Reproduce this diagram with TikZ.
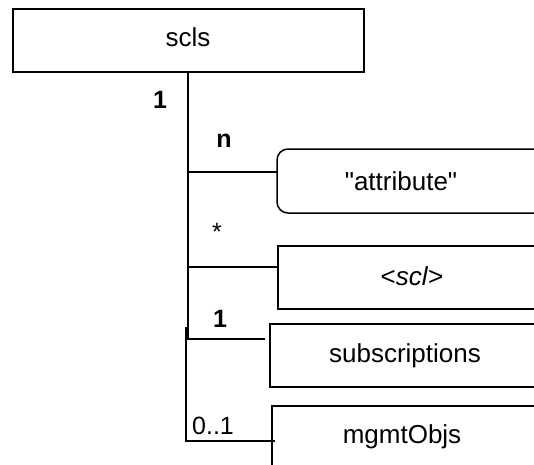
\documentclass[tikz,border=0pt]{standalone}
\usepackage{fontspec}
\setmainfont{Liberation Sans}[Ligatures=TeXOff]
\begin{document}
\begin{tikzpicture}[x=1pt,y=-1pt,
  every node/.style={inner sep=0pt, outer sep=0pt},
  rootbox/.style={draw, line width=2.2pt, rectangle, anchor=north west},
  childbox/.style={draw, line width=1.5pt, rectangle, anchor=north west},
  boxtext/.style={font=\fontsize{26}{30}\selectfont},
  mult/.style={font=\fontsize{25}{29}\selectfont},
  multb/.style={font=\fontsize{25}{29}\selectfont\bfseries},
  link/.style={line width=1.6pt}]
  \useasboundingbox (0,0) rectangle (534,464);
  \clip (0,0) rectangle (534,464);

  % root element
  \node[rootbox, minimum width=351pt, minimum height=63pt] (scls) at (13,9) {};
  \node[boxtext] (sclsT) at (188,37) {scls};

  % child resources (they run on past the right edge)
  \node[minimum width=320pt, minimum height=64pt, anchor=north west] (attr) at (277,149) {};
  \draw[line width=1.5pt, rounded corners=11pt]
    (attr.north east) -- (attr.north west) -- (attr.south west) -- (attr.south east);
  \node[boxtext] (attrT) at (401,181) {"attribute"};

  \node[childbox, minimum width=320pt, minimum height=63pt] (scl) at (278,246) {};
  \node[boxtext] (sclT) at (412,276) {<\textit{scl}>};

  \node[childbox, minimum width=320pt, minimum height=63pt] (subs) at (270,324) {};
  \node[boxtext] (subsT) at (405,355.5) {subscriptions};

  \node[childbox, minimum width=320pt, minimum height=90pt] (mgmt) at (272,406) {};
  \node[boxtext] (mgmtT) at (402,437) {mgmtObjs};

  % tree connectors
  \coordinate (trunkTop) at (scls.south -| 188,0);
  \coordinate (trunkA) at (188,172);
  \coordinate (trunkB) at (188,267);
  \coordinate (trunkC) at (188,339);
  \coordinate (subsEnd) at (265,339);
  \coordinate (branchTop) at (186,327);
  \coordinate (branchBot) at (186,441);
  \coordinate (mgmtEnd) at (275,441);

  \draw[link] (trunkTop) -- (trunkC) -- (subsEnd);
  \draw[link] (trunkA) -- (attr.west |- trunkA);
  \draw[link] (trunkB) -- (scl.west |- trunkB);
  \draw[link] (branchTop) -- (branchBot) -- (mgmtEnd);

  % multiplicities
  \node[multb] (m1) at (160,100) {1};
  \node[multb] (m2) at (224,141) {n};
  \node[mult] (m3) at (217,232) {*};
  \node[multb] (m4) at (220,319) {1};
  \node[mult] (m5) at (213,426) {0..1};
\end{tikzpicture}
\end{document}
